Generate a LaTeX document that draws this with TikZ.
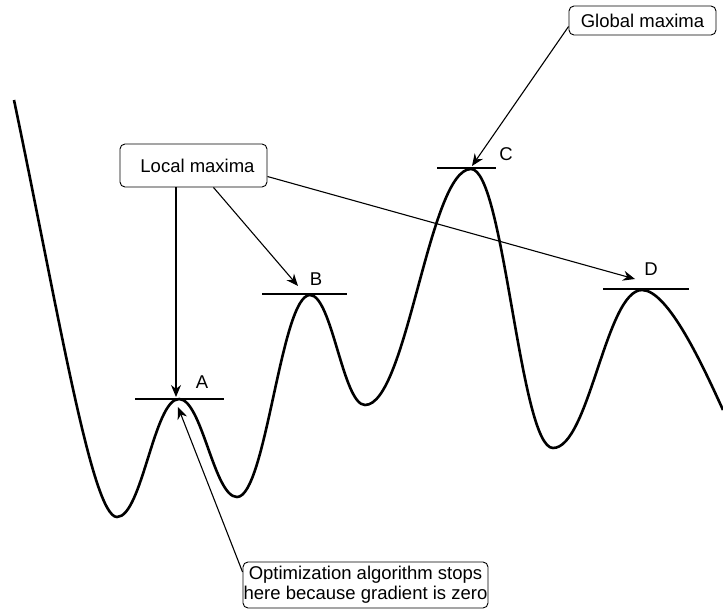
\documentclass[tikz,border=0pt]{standalone}
\usepackage{fontspec}
\setmainfont{Liberation Sans}
\usetikzlibrary{arrows.meta}

\begin{document}
\begin{tikzpicture}[x=1pt,y=-1pt,>={Stealth[length=12pt,width=10pt]},
    box/.style={draw,rounded corners=5pt,line width=0.9pt,inner sep=0pt,align=center,
        font=\fontsize{18.5}{20}\selectfont},
    lbl/.style={font=\fontsize{18.5}{20}\selectfont},
    tang/.style={line width=1.2pt},
    conn/.style={->,line width=1.1pt}]
    \useasboundingbox (0,0) rectangle (723,610);
    \draw[line width=2.6pt,line join=round]
        (14,100) .. controls (58,310) and (92,517) .. (117,517)
        .. controls +(25,0) and +(-25,0) .. (179,399)
        .. controls +(23,0) and +(-23,0) .. (237,497)
        .. controls +(29,0) and +(-29,0) .. (310,295)
        .. controls +(22,0) and +(-22,0) .. (365,405)
        .. controls +(42,0) and +(-42,0) .. (471,169)
        .. controls +(33,0) and +(-33,0) .. (553,448)
        .. controls +(36,0) and +(-36,0) .. (642,290)
        .. controls (668,290) and (703,366) .. (723,410);
    \draw[tang] (135,399) -- (224,399);
    \draw[tang] (262,294) -- (347,294);
    \draw[tang] (437,168) -- (496,168);
    \draw[tang] (603,289) -- (689,289);
    \node[lbl] (labA) at (202,382) {A};
    \node[lbl] (labB) at (316,279) {B};
    \node[lbl] (labC) at (506,154) {C};
    \node[lbl] (labD) at (651,269) {D};
    \coordinate (tA) at (176,397);
    \coordinate (tB) at (298,286);
    \coordinate (tC) at (472,166);
    \coordinate (tD) at (635,279);
    \coordinate (tA2) at (178,407);
    \node[box,minimum width=147pt,minimum height=43pt] (lmax) at (193.5,165.5)
        {\hspace{8pt}Local maxima};
    \node[box,minimum width=147pt,minimum height=29pt] (gmax) at (642.5,20.5) {Global maxima};
    \node[box,minimum width=245pt,minimum height=46pt] (opt) at (365.5,585)
        {Optimization algorithm stops\\here because gradient is zero};
    \draw[conn] (lmax.south -| tA) -- (tA);
    \draw[conn] ([xshift=20pt]lmax.south) -- (tB);
    \draw[conn] ([yshift=-11pt]lmax.east) -- (tD);
    \draw[conn] ([yshift=-6pt]gmax.west) -- (tC);
    \draw[conn] ([yshift=13pt]opt.west) -- (tA2);
\end{tikzpicture}
\end{document}
